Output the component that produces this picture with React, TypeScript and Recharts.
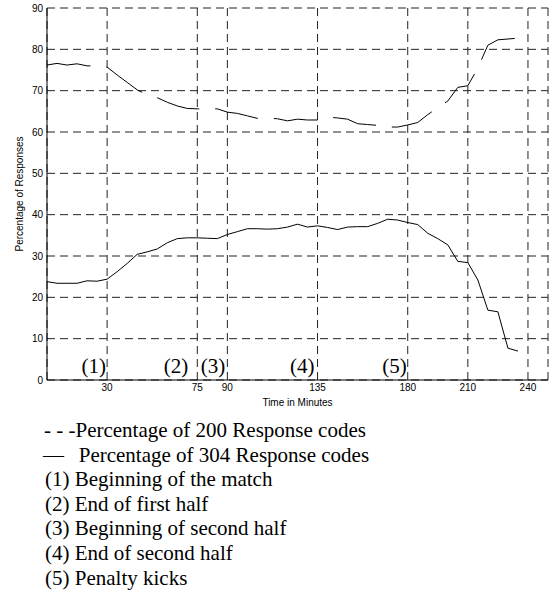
import React from 'react';
import { LineChart, Line, XAxis, YAxis, CartesianGrid, ReferenceDot } from 'recharts';

const minutes = [
  0, 5, 10, 15, 20, 25, 30, 35, 40, 45, 50, 55, 60, 65, 70, 75, 80, 85, 90, 95,
  100, 105, 110, 115, 120, 125, 130, 135, 140, 145, 150, 155, 160, 165, 170, 175,
  180, 185, 190, 195, 200, 205, 210, 215, 220, 225, 230, 235,
];

const pct200 = [
  76.2, 76.6, 76.2, 76.5, 76.0, 76.0, 75.7, 73.8, 72.0, 70.2, 69.0, 68.3, 67.2, 66.3,
  65.7, 65.6, 65.6, 65.6, 64.8, 64.5, 63.9, 63.3, 63.4, 63.2, 62.7, 63.1, 62.9, 62.9,
  63.6, 63.4, 63.1, 62.0, 61.8, 61.6, 61.2, 61.2, 61.7, 62.3, 64.2, 65.9, 67.5, 70.8,
  71.2, 75.5, 81.0, 82.3, 82.5, 82.7,
];

const pct304 = [
  23.8, 23.4, 23.4, 23.4, 24.0, 23.9, 24.4, 26.2, 28.2, 30.4, 31.0, 31.7, 33.2, 34.2,
  34.4, 34.4, 34.3, 34.2, 35.2, 35.9, 36.6, 36.6, 36.5, 36.6, 37.0, 37.7, 37.0, 37.3,
  36.9, 36.4, 37.0, 37.1, 37.1, 37.9, 38.9, 38.7, 38.1, 37.6, 35.5, 34.2, 32.7, 28.7,
  28.4, 24.2, 16.9, 16.5, 7.7, 7.0,
];

const xTicks = [30, 75, 90, 135, 180, 210, 240];
const yTicks = [0, 10, 20, 30, 40, 50, 60, 70, 80, 90];

const eventLabels = ['(1)', '(2)', '(3)', '(4)', '(5)'];
const eventMinutes = [30, 71, 89.5, 134, 180];

const legendLines = [
  '- - -Percentage of 200 Response codes',
  '\u2014  \u2009Percentage of 304 Response codes',
  '(1) Beginning of the match',
  '(2) End of first half',
  '(3) Beginning of second half',
  '(4) End of second half',
  '(5) Penalty kicks',
];

const data = minutes.map((m, i) => ({ minute: m, p200: pct200[i], p304: pct304[i] }));

const SANS = '"Liberation Sans", Arial, Helvetica, sans-serif';
const SERIF = '"Liberation Serif", "Times New Roman", serif';

const EventLabel = (props: any) => {
  const { viewBox, text } = props;
  const cx = viewBox.x + (viewBox.width || 0) / 2;
  const cy = viewBox.y + (viewBox.height || 0) / 2;
  return (
    <text x={cx - 1} y={cy - 7} textAnchor="end" fontFamily={SERIF} fontSize={21} fill="#000">
      {text}
    </text>
  );
};

export default function App() {
  return (
    <div style={{ position: 'absolute', left: 0, top: 0, width: 553, height: 596, background: '#fff' }}>
      <LineChart
        width={553}
        height={420}
        data={data}
        margin={{ top: 8, right: 5, left: 17, bottom: 10 }}
      >
        <CartesianGrid stroke="#222" strokeDasharray="8 5" horizontal vertical />
        <XAxis
          dataKey="minute"
          type="number"
          domain={[0, 250]}
          ticks={xTicks}
          tickLine={false}
          tickSize={0}
          tickMargin={4}
          height={30}
          axisLine={{ stroke: '#000' }}
          tick={{ fontSize: 10, fontFamily: SANS, fill: '#000' }}
          label={(p: any) => {
            const vb = p.viewBox;
            return (
              <text x={vb.x + vb.width / 2} y={vb.y + 26} textAnchor="middle" fontFamily={SANS} fontSize={10} fill="#000">
                Time in Minutes
              </text>
            );
          }}
        />
        <XAxis
          xAxisId="top"
          orientation="top"
          type="number"
          domain={[0, 250]}
          height={0}
          tick={false}
          tickLine={false}
          axisLine={{ stroke: '#000' }}
        />
        <YAxis
          type="number"
          domain={[0, 90]}
          ticks={yTicks}
          width={30}
          tickLine={false}
          tickSize={0}
          tickMargin={4}
          axisLine={{ stroke: '#000' }}
          tick={{ fontSize: 10, fontFamily: SANS, fill: '#000' }}
          label={(p: any) => {
            const vb = p.viewBox;
            const x = vb.x + 6;
            const y = vb.y + vb.height / 2;
            return (
              <text x={x} y={y} transform={`rotate(-90, ${x}, ${y})`} textAnchor="middle" fontFamily={SANS} fontSize={10} fill="#000">
                Percentage of Responses
              </text>
            );
          }}
        />
        <YAxis
          yAxisId="right"
          orientation="right"
          type="number"
          domain={[0, 90]}
          width={0}
          tick={false}
          tickLine={false}
          axisLine={{ stroke: '#000' }}
        />
        <Line
          type="linear"
          dataKey="p200"
          stroke="#000"
          strokeWidth={1}
          strokeDasharray="44 16"
          dot={false}
          activeDot={false}
          isAnimationActive={false}
        />
        <Line
          type="linear"
          dataKey="p304"
          stroke="#000"
          strokeWidth={1}
          dot={false}
          activeDot={false}
          isAnimationActive={false}
        />
        {eventMinutes.map((m, i) => (
          <ReferenceDot
            key={i}
            x={m}
            y={0}
            r={0}
            fill="none"
            stroke="none"
            ifOverflow="visible"
            label={<EventLabel text={eventLabels[i]} />}
          />
        ))}
      </LineChart>
      <svg width={553} height={196} style={{ position: 'absolute', left: 0, top: 400 }}>
        {legendLines.map((t, i) => (
          <text
            key={i}
            x={i === 1 ? 43 : i === 0 ? 44 : 45}
            y={37 + i * 24.6}
            fontFamily={SERIF}
            fontSize={21}
            fill="#000"
            style={{ whiteSpace: 'pre' }}
          >
            {t}
          </text>
        ))}
      </svg>
    </div>
  );
}
